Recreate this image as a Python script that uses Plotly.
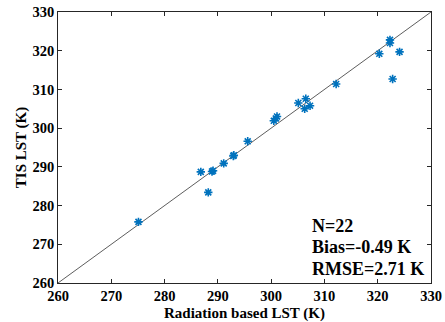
import plotly.graph_objects as go

radiation_lst = [322.3, 322.3, 320.3, 324.1, 322.8, 312.2, 306.5, 305.1, 307.3, 306.3,
                 301.1, 300.9, 300.5, 295.6, 292.9, 293.0, 291.1, 288.9, 289.1, 286.8,
                 288.2, 275.1]
tis_lst = [322.8, 322.0, 319.2, 319.7, 312.7, 311.4, 307.6, 306.5, 305.8, 305.0,
           303.0, 302.5, 301.9, 296.6, 292.8, 293.0, 290.9, 288.8, 289.0, 288.7,
           283.4, 275.8]
ticks = [260, 270, 280, 290, 300, 310, 320, 330]
stats_lines = ["N=22", "Bias=-0.49 K", "RMSE=2.71 K"]

FONT = "Liberation Serif"

fig = go.Figure()
fig.add_trace(go.Scatter(x=[260, 330], y=[260, 330], mode="lines",
                         line=dict(color="#333333", width=0.8), showlegend=False,
                         hoverinfo="skip"))
fig.add_trace(go.Scatter(x=radiation_lst, y=tis_lst, mode="markers",
                         marker=dict(symbol="asterisk-open", size=7, color="#0072BD",
                                     line=dict(color="#0072BD", width=1.6)),
                         showlegend=False))

axis_common = dict(range=[260, 330], tickmode="array", tickvals=ticks,
                   ticktext=[str(t) for t in ticks], ticks="inside", ticklen=4,
                   tickcolor="#262626", mirror="ticks", showline=True,
                   linecolor="#262626", linewidth=0.8, showgrid=False, zeroline=False,
                   automargin=False,
                   tickfont=dict(family=FONT, size=14.5, color="#000000", weight="bold"))

fig.update_xaxes(**axis_common,
                 title=dict(text="Radiation based LST (K)", standoff=4,
                            font=dict(family=FONT, size=15, color="#000000", weight="bold")))
fig.update_yaxes(**axis_common,
                 title=dict(text="TIS LST (K)", standoff=2,
                            font=dict(family=FONT, size=15, color="#000000", weight="bold")))

ann_y = [274.7, 269.2, 263.7]
for txt, yy in zip(stats_lines, ann_y):
    fig.add_annotation(x=307.2, y=yy, xref="x", yref="y", text=txt,
                       showarrow=False, xanchor="left", yanchor="middle",
                       font=dict(family=FONT, size=18, color="#000000", weight="bold"))

fig.update_layout(width=445, height=322, margin=dict(l=58, r=14, t=12, b=39),
                  plot_bgcolor="white", paper_bgcolor="white")

fig.write_html("out.html", config={"displayModeBar": False},
               post_script="document.body.style.margin='0px';document.body.style.overflow='hidden';")
